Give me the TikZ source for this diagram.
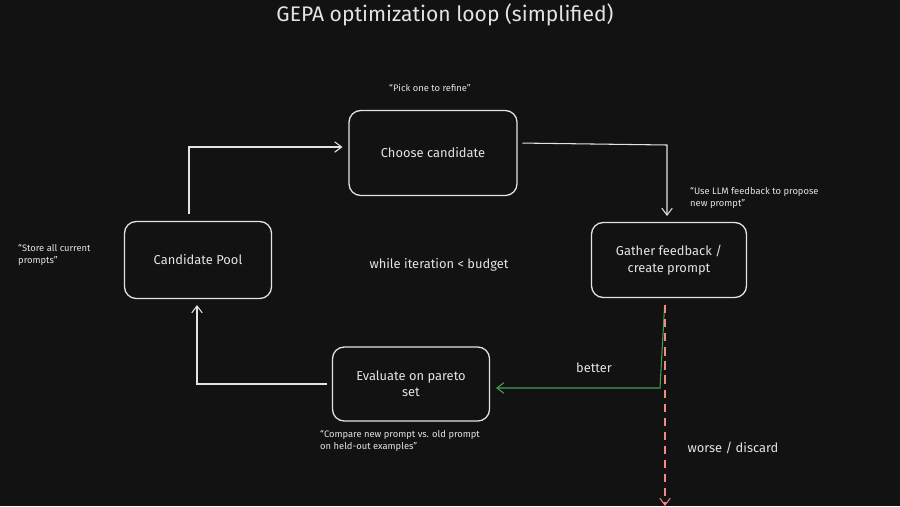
\documentclass[tikz,border=0pt]{standalone}
\usepackage{fontspec}
\setmainfont{Fira Sans}
\usetikzlibrary{arrows.meta}
\definecolor{bg}{HTML}{121212}
\definecolor{fg}{HTML}{E3E3E3}
\definecolor{grn}{HTML}{3FA34D}
\definecolor{rd}{HTML}{F28B82}
\begin{document}
\begin{tikzpicture}[x=0.03cm,y=-0.03cm,
  box/.style={draw=fg,line width=1.1pt,rounded corners=10pt,text=fg,align=center,font=\fontsize{11}{14}\selectfont,inner sep=0pt},
  note/.style={text=fg,align=left,font=\fontsize{8}{10.5}\selectfont,inner sep=0pt},
  lbl/.style={text=fg,font=\fontsize{11}{14}\selectfont,inner sep=0pt},
  arr/.style={draw=fg,line width=0.9pt,shorten >=5pt,-{Straight Barb[length=6pt,width=9pt]}}]
\fill[bg] (0,0) rectangle (900,506);
\useasboundingbox (0,0) rectangle (900,506);
\node[lbl,font=\fontsize{18}{21}\selectfont] (title) at (445,15) {GEPA optimization loop (simplified)};
\node[box,minimum width=5.04cm,minimum height=2.55cm] (choose) at (433,153) {Choose candidate};
\node[box,minimum width=4.65cm,minimum height=2.25cm] (gather) at (669,260) {Gather feedback /\\create prompt};
\node[box,minimum width=4.41cm,minimum height=2.31cm] (pool) at (198,260) {Candidate Pool};
\node[box,minimum width=4.71cm,minimum height=2.22cm] (eval) at (411,384) {Evaluate on pareto\\set};
\node[lbl] (loop) at (439,265) {while iteration < budget};
\node[note] (n1) at (430,88) {“Pick one to refine”};
\node[note,anchor=north west] (n2) at (690,187) {“Use LLM feedback to propose\\new prompt”};
\node[note,anchor=north west] (n3) at (18,244) {“Store all current\\prompts”};
\node[note,anchor=north west] (n4) at (320,430) {“Compare new prompt vs. old prompt\\on held-out examples”};
\node[lbl] (better) at (594,368) {better};
\node[lbl] (worse) at (733,448) {worse / discard};
\coordinate (end) at (665,506);
\draw[arr,shorten <=6pt] (pool.north -| 189,0) -- (189,147) -- (choose.west |- 0,147);
\draw[arr,shorten <=4pt] (choose.east |- 0,143) -- (667,145) -- (gather.north -| 667,0);
\draw[arr,draw=grn,shorten <=6pt] (gather.south -| 665,0) -- (660,388) -- (eval.east |- 0,388);
\draw[arr,draw=rd,dash pattern=on 7pt off 5pt,shorten <=6pt,shorten >=0pt] (gather.south -| 665,0) -- (end);
\draw[arr,shorten <=4pt] (eval.west |- 0,384) -- (197,384) -- (pool.south -| 197,0);
\end{tikzpicture}
\end{document}
